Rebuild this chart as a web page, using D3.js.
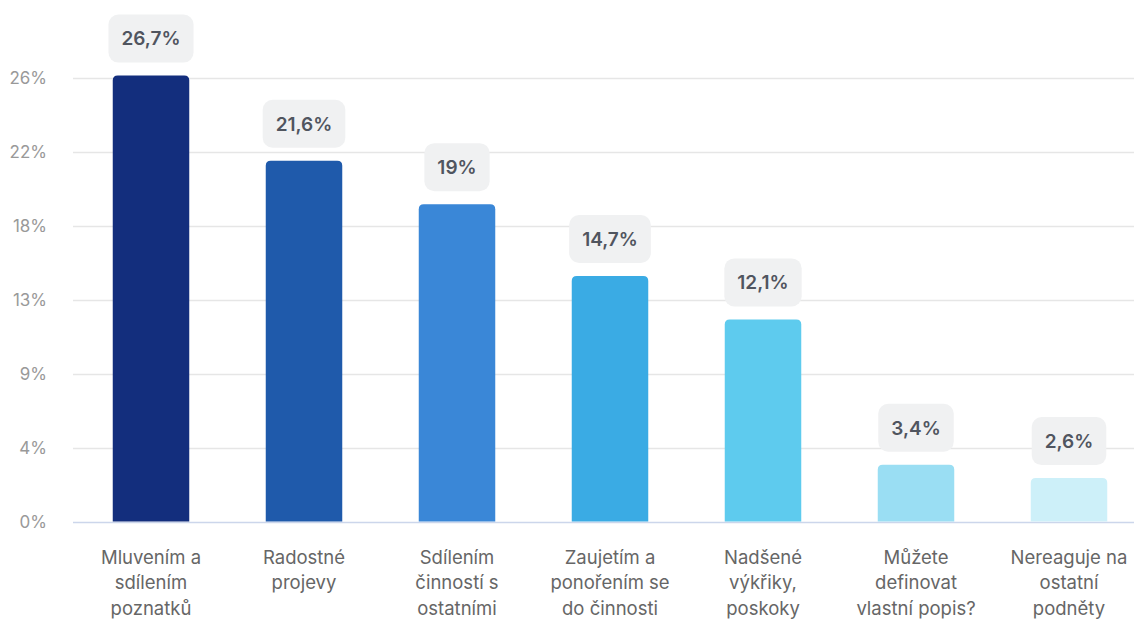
<!DOCTYPE html>
<html>
<head>
<meta charset="utf-8">
<script src="https://cdn.jsdelivr.net/npm/d3@7"></script>
<style>
  html, body { margin: 0; padding: 0; background: #fff; }
  svg { display: block; font-family: Inter, "Noto Sans", sans-serif; }
</style>
</head>
<body>
<svg id="chart" width="1134" height="619"></svg>
<script>
const categories = [
  "Mluvením a\nsdílením\npoznatků",
  "Radostné\nprojevy",
  "Sdílením\nčinností s\nostatními",
  "Zaujetím a\nponořením se\ndo činnosti",
  "Nadšené\nvýkřiky,\nposkoky",
  "Můžete\ndefinovat\nvlastní popis?",
  "Nereaguje na\nostatní\npodněty"
];
const values = [26.7, 21.6, 19, 14.7, 12.1, 3.4, 2.6];
const valueLabels = ["26,7%", "21,6%", "19%", "14,7%", "12,1%", "3,4%", "2,6%"];
const colors = ["#132e7d", "#1f5aab", "#3a87d7", "#3aabe4", "#5ecbee", "#9adef3", "#cdf0f9"];
const tickValues = [0, 4.43, 8.86, 13.29, 17.72, 22.15, 26.58];
const tickLabels = ["0%", "4%", "9%", "13%", "18%", "22%", "26%"];

const svg = d3.select("#chart");

const x = d3.scaleBand()
  .domain(categories)
  .range([74.5, 1145.5])
  .paddingInner(0.5)
  .paddingOuter(0.25);

const y = d3.scaleLinear()
  .domain([0, 28.8])
  .range([521.5, 40.5]);

// grid lines
const grid = svg.append("g");
grid.selectAll("line")
  .data(tickValues)
  .join("line")
  .attr("x1", 73)
  .attr("x2", 1134)
  .attr("y1", d => Math.round(y(d)) + 0.5)
  .attr("y2", d => Math.round(y(d)) + 0.5)
  .attr("stroke", (d, i) => i === 0 ? "#ccd6eb" : "#e6e6e6")
  .attr("stroke-width", 1.5);

// y axis labels
const yAxis = d3.axisLeft(y)
  .tickValues(tickValues)
  .tickFormat((d, i) => tickLabels[i])
  .tickSize(0)
  .tickPadding(0);

const yg = svg.append("g")
  .attr("transform", "translate(47,0)")
  .call(yAxis);
yg.select(".domain").remove();
yg.selectAll("text")
  .attr("font-family", "Inter, sans-serif")
  .attr("font-size", 17)
  .attr("fill", "#999999")
  .attr("dy", "0.35em");

// bars with rounded top corners
function barPath(x0, w, yTop, yBase, r) {
  r = Math.min(r, (yBase - yTop), w / 2);
  return `M${x0},${yBase}V${yTop + r}Q${x0},${yTop} ${x0 + r},${yTop}` +
         `H${x0 + w - r}Q${x0 + w},${yTop} ${x0 + w},${yTop + r}V${yBase}Z`;
}

svg.append("g").selectAll("path")
  .data(values)
  .join("path")
  .attr("d", (d, i) => barPath(x(categories[i]), x.bandwidth(), y(d), y(0), 5))
  .attr("fill", (d, i) => colors[i]);

// value labels in boxes
const lab = svg.append("g").selectAll("g")
  .data(values)
  .join("g")
  .attr("transform", (d, i) => `translate(${x(categories[i]) + x.bandwidth() / 2},${y(d) - 13 - 24})`);

lab.append("rect")
  .attr("class", "box")
  .attr("y", -24)
  .attr("height", 48)
  .attr("rx", 10)
  .attr("fill", "#f0f1f2");

lab.append("text")
  .text((d, i) => valueLabels[i])
  .attr("text-anchor", "middle")
  .attr("dy", "0.36em")
  .attr("font-family", "Inter, sans-serif")
  .attr("font-weight", 600)
  .attr("font-size", 19)
  .attr("fill", "#50555f");

lab.each(function() {
  const g = d3.select(this);
  const w = g.select("text").node().getComputedTextLength();
  g.select("rect").attr("x", -(w / 2 + 13)).attr("width", w + 26);
});

// category labels
const xAxis = d3.axisBottom(x).tickSize(0).tickFormat("");
const xg = svg.append("g").attr("transform", `translate(0,${y(0)})`).call(xAxis);
xg.select(".domain").remove();

xg.selectAll(".tick").each(function(d) {
  const t = d3.select(this).append("text")
    .attr("text-anchor", "middle")
    .attr("font-family", "Inter, sans-serif")
    .attr("font-size", 18.5)
    .attr("fill", "#666666");
  d.split("\n").forEach((line, j) => {
    t.append("tspan")
      .attr("x", 0)
      .attr("y", 42 + j * 25.5)
      .text(line);
  });
});
</script>
</body>
</html>
